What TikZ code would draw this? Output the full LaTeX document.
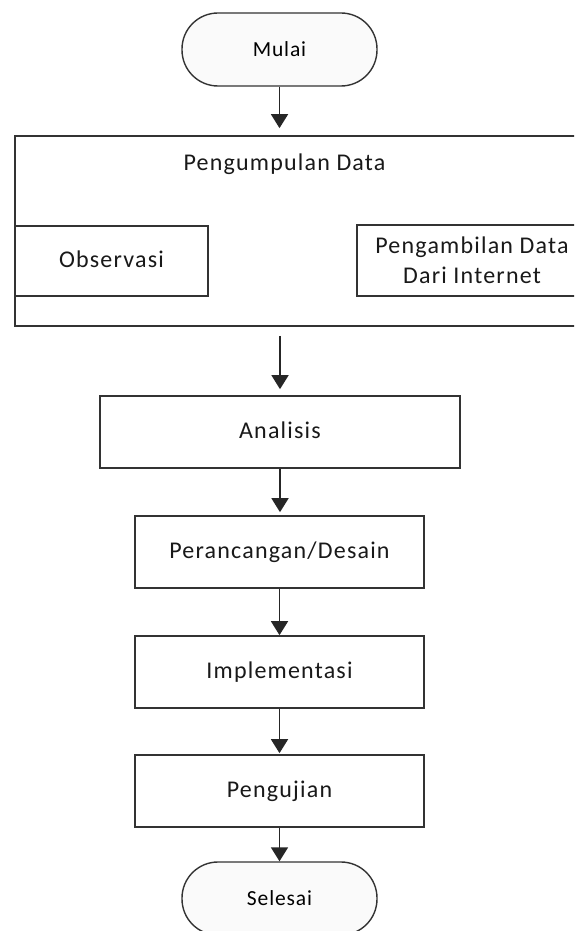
\documentclass[tikz,border=0pt]{standalone}
\usepackage{fontspec}
\newfontfamily\chartfont[LetterSpace=5]{Carlito}
\newfontfamily\termfont[LetterSpace=4]{Carlito}
\usetikzlibrary{arrows.meta}
\begin{document}
\begin{tikzpicture}[x=1pt,y=-1pt,
  boxbase/.style={draw=black!80, line width=1.7pt, fill=white, rectangle,
    inner sep=0pt, text=black!90, align=center,
    font=\chartfont\fontsize{24}{30}\selectfont},
  box/.style={boxbase, text height=16pt, text depth=4pt},
  terminal/.style={draw=black!80, line width=1.4pt, fill=black!2,
    rounded corners=36pt, minimum width=195pt, minimum height=73pt,
    inner sep=0pt, text=black, text height=14pt, text depth=0pt,
    font=\termfont\fontsize{21.5}{24}\selectfont},
  label/.style={inner sep=0pt, text=black!90,
    font=\chartfont\fontsize{24}{30}\selectfont},
  flow/.style={draw=black!85, line width=1.7pt,
    -{Triangle[width=17pt,length=14pt]}}]
\useasboundingbox (0,0) rectangle (574,931);
\fill[white] (0,0) rectangle (574,931);
\clip (0,0) rectangle (574,931);

% start
\node[terminal] (mulai) at (279.5,49.5) {Mulai};

% data collection group
\node[boxbase, minimum width=585pt, minimum height=190pt] (pd) at (307.5,231) {};
\node[label, anchor=base] (pdt) at (284.5,170) {Pengumpulan Data};
\node[box, minimum width=193pt, minimum height=70pt] (obs) at (111.5,261) {Observasi};
\node[boxbase, minimum width=230pt, minimum height=71pt] (web) at (472,260.5)
  {Pengambilan Data\\Dari Internet};

% process steps
\node[box, minimum width=360pt, minimum height=72pt] (analisis) at (280,432) {Analisis};
\node[box, minimum width=289pt, minimum height=72pt] (desain) at (279.5,552) {Perancangan/Desain};
\node[box, minimum width=289pt, minimum height=72pt] (impl) at (279.5,672) {Implementasi};
\node[box, minimum width=289pt, minimum height=72pt] (uji) at (279.5,791) {Pengujian};

% end
\node[terminal] (selesai) at (279.5,898.5) {Selesai};

% connectors
\draw[flow, shorten >=7pt] (mulai.south) -- (mulai.south |- pd.north);
\draw[flow, shorten <=9pt, shorten >=6pt] (analisis.north |- pd.south) -- (analisis.north);
\draw[flow, shorten >=3pt] (analisis.south) -- (analisis.south |- desain.north);
\draw[flow] (desain.south) -- (impl.north);
\draw[flow, shorten >=1pt] (impl.south) -- (uji.north);
\draw[flow] (uji.south) -- (selesai.north);
\end{tikzpicture}
\end{document}
